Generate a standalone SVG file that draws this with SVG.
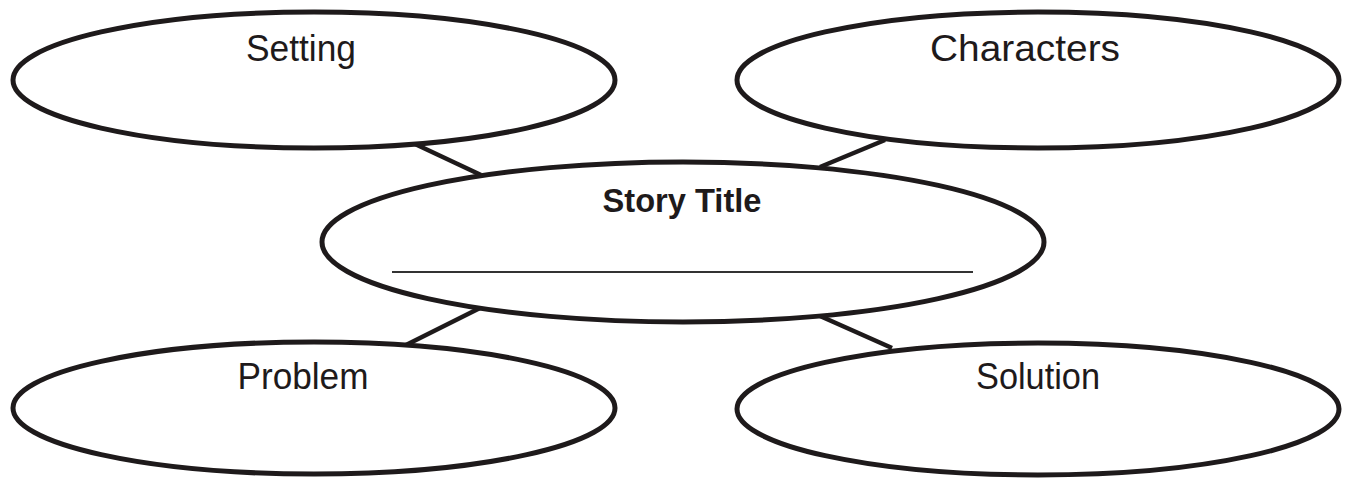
<svg xmlns="http://www.w3.org/2000/svg" width="1346" height="478" viewBox="0 0 1346 478">
<style>
.node{fill:#fff;stroke:#1e1a1b;stroke-width:5}
.conn line{stroke:#1e1a1b;stroke-width:4.5}
.lbl{font-family:"Liberation Sans",Arial,sans-serif;font-size:36px;fill:#1e1a1b;text-anchor:middle}
.title{font-family:"Liberation Sans",Arial,sans-serif;font-size:34px;font-weight:bold;fill:#1e1a1b;text-anchor:middle}
</style>
<rect width="1346" height="478" fill="#fff"/>
<g id="connectors" class="conn">
<line x1="415" y1="144" x2="481" y2="175"/>
<line x1="885" y1="140" x2="820" y2="167"/>
<line x1="404" y1="346" x2="480" y2="308"/>
<line x1="820" y1="316" x2="892" y2="348"/>
</g>
<g id="setting">
<ellipse class="node" cx="314" cy="80" rx="301" ry="68"/>
<text class="lbl" x="301" y="61" textLength="110" lengthAdjust="spacingAndGlyphs">Setting</text>
</g>
<g id="characters">
<ellipse class="node" cx="1038" cy="80" rx="301" ry="68"/>
<text class="lbl" x="1025" y="61" textLength="190" lengthAdjust="spacingAndGlyphs">Characters</text>
</g>
<g id="problem">
<ellipse class="node" cx="314" cy="408" rx="301" ry="66"/>
<text class="lbl" x="303" y="389" textLength="131" lengthAdjust="spacingAndGlyphs">Problem</text>
</g>
<g id="solution">
<ellipse class="node" cx="1038" cy="409" rx="301" ry="66"/>
<text class="lbl" x="1038" y="389" textLength="124" lengthAdjust="spacingAndGlyphs">Solution</text>
</g>
<g id="story-title">
<ellipse class="node" cx="683" cy="242" rx="361" ry="80"/>
<text class="title" x="682" y="212" textLength="159" lengthAdjust="spacingAndGlyphs">Story Title</text>
<line x1="392" y1="272" x2="973" y2="272" stroke="#333" stroke-width="2"/>
</g>
</svg>
